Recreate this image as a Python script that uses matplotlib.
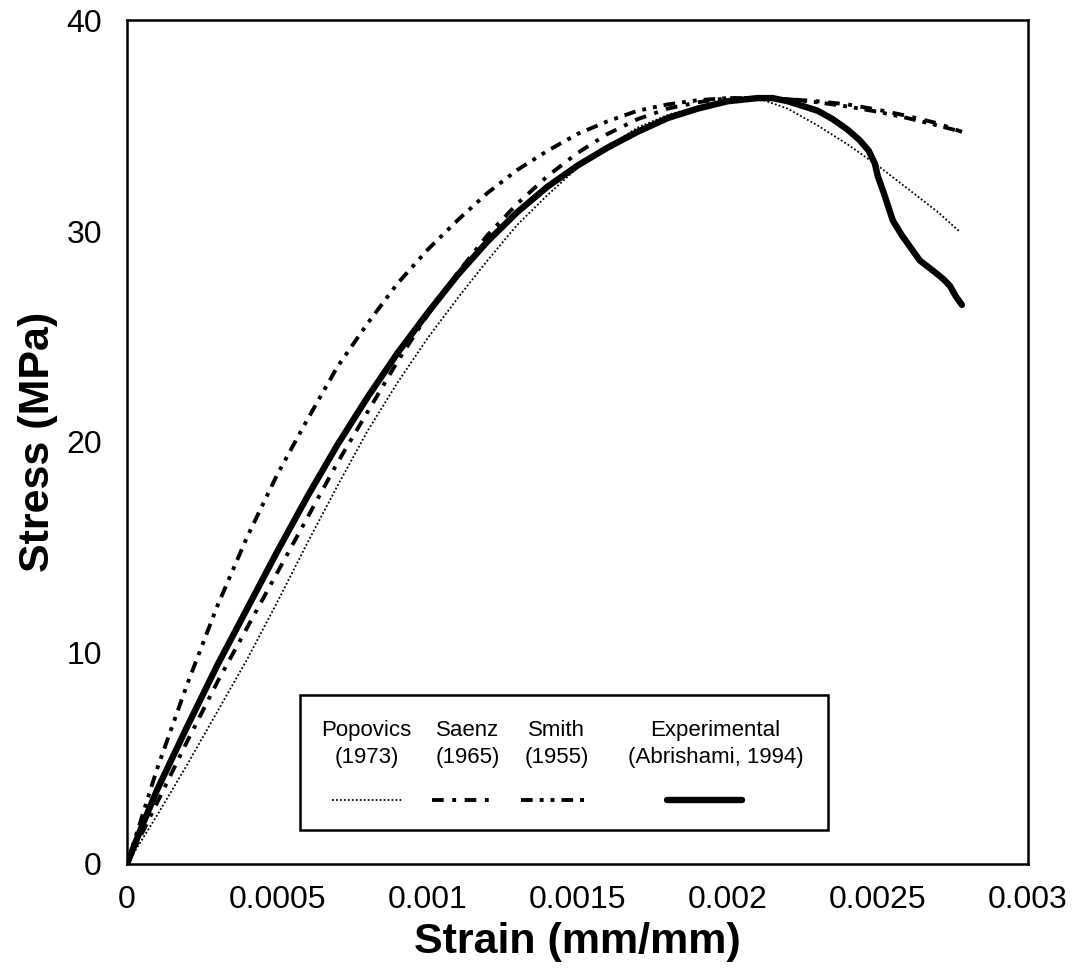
import matplotlib
matplotlib.use("Agg")
import matplotlib.pyplot as plt
from matplotlib.patches import Rectangle

plt.rcParams['font.family'] = ['Liberation Sans', 'DejaVu Sans']

# ---- data ----
strain_exp = [0, 0.00005, 0.0001, 0.0002, 0.0003, 0.0004, 0.0005, 0.0006, 0.0007, 0.0008,
              0.0009, 0.001, 0.0011, 0.0012, 0.0013, 0.0014, 0.0015, 0.0016, 0.0017, 0.0018,
              0.0019, 0.002, 0.0021, 0.00215, 0.0022, 0.0023, 0.00235, 0.0024, 0.00244,
              0.00247, 0.00249, 0.0025, 0.00252, 0.00255, 0.00258, 0.0026, 0.00264, 0.00269,
              0.00272, 0.00274, 0.00276, 0.00278]
stress_exp = [0, 1.8, 3.5, 6.5, 9.4, 12.1, 14.8, 17.4, 19.85, 22.1,
              24.2, 26.1, 27.9, 29.5, 30.9, 32.1, 33.1, 33.95, 34.7, 35.35,
              35.8, 36.15, 36.3, 36.3, 36.15, 35.7, 35.3, 34.8, 34.3,
              33.8, 33.2, 32.6, 31.8, 30.5, 29.8, 29.4, 28.6, 28.05,
              27.7, 27.4, 26.9, 26.5]

strain_pop = [0, 0.0001, 0.0002, 0.0003, 0.0004, 0.0005, 0.0006, 0.0007, 0.0008, 0.0009,
              0.001, 0.0011, 0.0012, 0.0013, 0.0014, 0.0015, 0.0016, 0.0017, 0.0018, 0.0019,
              0.002, 0.0021, 0.0022, 0.0023, 0.0024, 0.0025, 0.0026, 0.0027, 0.00277]
stress_pop = [0, 2.3, 4.7, 7.2, 9.7, 12.4, 15.2, 17.9, 20.5, 22.8,
              24.9, 26.8, 28.6, 30.3, 31.7, 33.0, 34.0, 34.9, 35.5, 35.9,
              36.2, 36.3, 35.8, 35.0, 34.1, 33.1, 32.0, 30.9, 30.0]

strain_saenz = [0, 0.0001, 0.0002, 0.0003, 0.0004, 0.0005, 0.0006, 0.0007, 0.0008, 0.0009,
                0.001, 0.0011, 0.0012, 0.0013, 0.0014, 0.0015, 0.0016, 0.0017, 0.0018, 0.0019,
                0.002, 0.0021, 0.0022, 0.0023, 0.0024, 0.0025, 0.0026, 0.0027, 0.00278]
stress_saenz = [0, 2.9, 5.8, 8.6, 11.2, 13.8, 16.4, 19.0, 21.4, 23.8,
                26.0, 28.0, 29.8, 31.3, 32.6, 33.7, 34.6, 35.3, 35.8, 36.1,
                36.3, 36.3, 36.25, 36.15, 36.0, 35.75, 35.45, 35.1, 34.7]

strain_smith = [0, 0.0001, 0.0002, 0.0003, 0.0004, 0.0005, 0.0006, 0.0007, 0.0008, 0.0009,
                0.001, 0.0011, 0.0012, 0.0013, 0.0014, 0.0015, 0.0016, 0.0017, 0.0018, 0.0019,
                0.002, 0.0021, 0.0022, 0.0023, 0.0024, 0.0025, 0.0026, 0.0027, 0.00278]
stress_smith = [0, 4.5, 8.5, 12.2, 15.5, 18.45, 21.05, 23.55, 25.6, 27.5,
                29.1, 30.5, 31.8, 32.9, 33.8, 34.6, 35.2, 35.7, 36.0, 36.2,
                36.3, 36.3, 36.25, 36.1, 35.9, 35.65, 35.35, 35.0, 34.7]

x_ticks = [0, 0.0005, 0.001, 0.0015, 0.002, 0.0025, 0.003]
x_ticklabels = ['0', '0.0005', '0.001', '0.0015', '0.002', '0.0025', '0.003']
y_ticks = [0, 10, 20, 30, 40]

legend_names = ['Popovics\n(1973)', 'Saenz\n(1965)', 'Smith\n(1955)', 'Experimental\n(Abrishami, 1994)']

# ---- figure ----
fig = plt.figure(figsize=(10.79, 9.77), dpi=100)
ax = fig.add_axes([0.1177, 0.1157, 0.835, 0.8638])

style_pop = dict(color='black', lw=1.3, dashes=(1.0, 1.2))
style_saenz = dict(color='black', lw=2.8, dashes=(3.0, 2.2, 1.0, 2.2))
style_smith = dict(color='black', lw=2.8, dashes=(3.0, 1.8, 1.0, 1.8, 1.0, 1.8))
style_exp = dict(color='black', lw=4.6, solid_capstyle='round', solid_joinstyle='round')

ax.plot(strain_pop, stress_pop, **style_pop)
ax.plot(strain_saenz, stress_saenz, **style_saenz)
ax.plot(strain_smith, stress_smith, **style_smith)
ax.plot(strain_exp, stress_exp, **style_exp)

ax.set_xlim(0, 0.003)
ax.set_ylim(0, 40)
ax.set_xticks(x_ticks)
ax.set_xticklabels(x_ticklabels)
ax.set_yticks(y_ticks)
ax.tick_params(axis='both', length=0, labelsize=23)
ax.tick_params(axis='x', pad=15)
ax.tick_params(axis='y', pad=18)
for s in ax.spines.values():
    s.set_linewidth(1.8)

ax.set_xlabel('Strain (mm/mm)', fontsize=31, fontweight='bold', labelpad=5)
ax.set_ylabel('Stress (MPa)', fontsize=31, fontweight='bold', labelpad=6)

# ---- legend box (manual, labels above samples) ----
bx0, by0, bx1, by1 = 0.192, 0.040, 0.778, 0.200
ax.add_patch(Rectangle((bx0, by0), bx1 - bx0, by1 - by0, transform=ax.transAxes,
                       facecolor='white', edgecolor='black', lw=1.8, zorder=5))
col_x = [0.266, 0.378, 0.477, 0.653]
samp_x = [0.267, 0.375, 0.476, 0.641]
half_w = [0.039, 0.036, 0.039, 0.042]
styles = [style_pop, style_saenz, style_smith, style_exp]
for cx, sx, hw, name, st in zip(col_x, samp_x, half_w, legend_names, styles):
    ax.text(cx, 0.1425, name, transform=ax.transAxes, ha='center', va='center',
            fontsize=16, linespacing=1.4, zorder=6)
    ax.plot([sx - hw, sx + hw], [0.0758, 0.0758], transform=ax.transAxes, zorder=6, **st)

fig.savefig('out.png', dpi=100)
